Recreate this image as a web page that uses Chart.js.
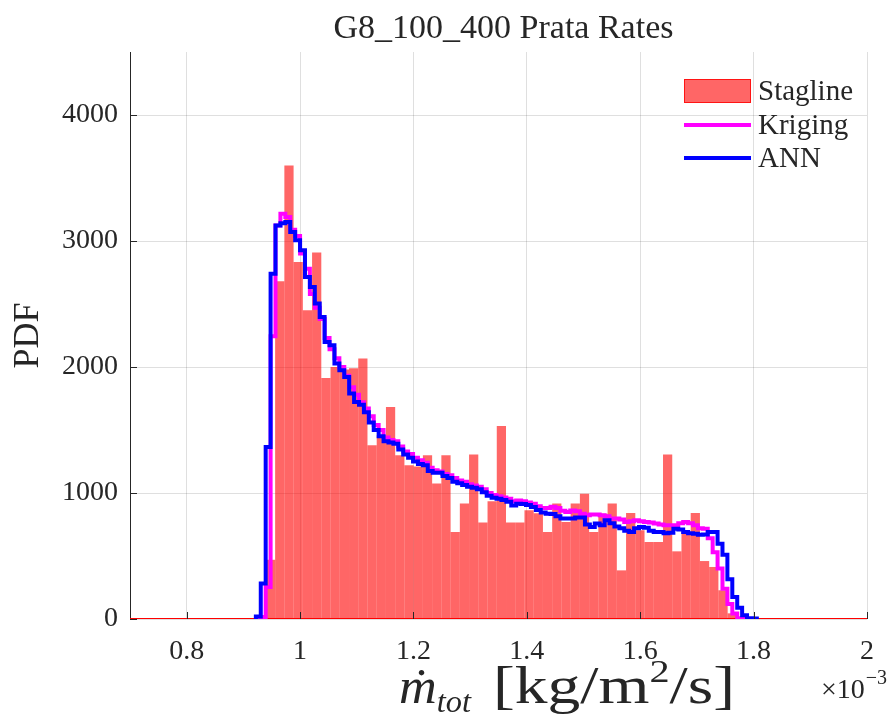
<!DOCTYPE html>
<html>
<head>
<meta charset="utf-8">
<script src="https://cdn.jsdelivr.net/npm/chart.js@4.4.1/dist/chart.umd.min.js"></script>
<style>
  html, body { margin: 0; padding: 0; background: #fff; }
  #wrap { width: 890px; height: 718px; }
</style>
</head>
<body>
<div id="wrap"><canvas id="c" width="890" height="718"></canvas></div>
<script>
// ---------------- data ----------------
const xTicks = [0.8, 1.0, 1.2, 1.4, 1.6, 1.8, 2.0];
const xTickLabels = ['0.8', '1', '1.2', '1.4', '1.6', '1.8', '2'];
const yTicks = [0, 1000, 2000, 3000, 4000];

// Stagline histogram (bin edges in units of 1e-3)
const staglineStart = 0.9397;
const staglineWidth = 0.01629;
const staglineCounts = [
  470, 2680, 3600, 2833, 2450, 2908, 1913, 2000, 1980, 1990,
  2067, 1379, 1458, 1683, 1299, 1220, 1210, 1300, 1075, 1299,
  690, 916, 1305, 765, 935, 1532, 765, 765, 863, 840,
  690, 916, 770, 916, 995, 690, 836, 916, 386, 841,
  704, 611, 611, 1305, 537, 690, 841, 460, 413, 228,
  45
];

// Kriging / ANN stairs (same bin edges)
const lineStart = 0.9220;
const lineWidth = 0.008664;
const krigingValues = [
  0, 15, 254, 2245, 3124, 3217, 3190, 3090, 3040, 2900,
  2780, 2580, 2470, 2380, 2230, 2140, 2070, 2000, 1930, 1840,
  1780, 1720, 1670, 1610, 1540, 1500, 1440, 1420, 1410, 1370,
  1330, 1310, 1280, 1260, 1240, 1200, 1180, 1170, 1150, 1140,
  1120, 1100, 1090, 1070, 1060, 1050, 1030, 1000, 985, 975,
  965, 955, 935, 940, 935, 925, 915, 895, 880, 880,
  890, 880, 860, 850, 862, 855, 835, 823, 830, 830,
  823, 815, 797, 797, 790, 770, 775, 783, 775, 770,
  765, 757, 750, 744, 744, 744, 760, 770, 760, 745,
  720, 717, 640, 530, 400, 240, 120, 43, 5, 2,
  0, 0
];
const annValues = [
  20, 281, 1365, 2741, 3124, 3140, 3150, 3071, 3005, 2926,
  2714, 2635, 2503, 2397, 2198, 2172, 2027, 1974, 1921, 1789,
  1722, 1700, 1640, 1560, 1500, 1450, 1410, 1400, 1390, 1345,
  1305, 1280, 1250, 1230, 1220, 1175, 1160, 1160, 1135, 1120,
  1090, 1078, 1063, 1050, 1042, 1030, 1005, 978, 962, 955,
  945, 930, 900, 915, 912, 905, 888, 865, 845, 836,
  833, 815, 798, 797, 797, 805, 805, 750, 730, 757,
  744, 783, 760, 735, 720, 700, 690, 720, 730, 725,
  700, 690, 690, 680, 685, 717, 710, 690, 680, 677,
  668, 670, 690, 690, 598, 510, 315, 175, 90, 29,
  5, 3
];

// ---------------- helpers ----------------
function barPoints(start, w, counts) {
  return counts.map((v, i) => ({ x: start + (i + 0.5) * w, y: v }));
}
function stairPoints(start, w, vals) {
  const pts = [{ x: start, y: 0 }];
  vals.forEach((v, i) => pts.push({ x: start + i * w, y: v }));
  pts.push({ x: start + vals.length * w, y: 0 });
  return pts;
}

const FONT = "'Liberation Serif', 'Times New Roman', serif";
const TXT = '#262626';

// draw a run of text pieces, optionally squeezed/stretched to a width
function drawRun(ctx, parts, x0, base, targetW) {
  let total = 0;
  parts.forEach(p => { ctx.font = p.f; p.w = ctx.measureText(p.t).width; total += p.w; });
  const sx = targetW ? targetW / total : 1;
  ctx.save();
  ctx.translate(x0, base);
  ctx.scale(sx, 1);
  ctx.textAlign = 'left';
  let px = 0;
  parts.forEach(p => { ctx.font = p.f; ctx.fillText(p.t, px, p.dy); px += p.w; });
  ctx.restore();
}

// ---------------- decorations (ticks, legend, labels) ----------------
const decor = {
  id: 'decor',
  afterDatasetsDraw(chart) {
    const { ctx, chartArea: a, scales: { x, y } } = chart;
    ctx.save();
    // inward tick marks
    ctx.strokeStyle = TXT;
    ctx.lineWidth = 1;
    xTicks.forEach(v => {
      const px = Math.round(x.getPixelForValue(v)) + 0.5;
      ctx.beginPath(); ctx.moveTo(px, a.bottom); ctx.lineTo(px, a.bottom - 7); ctx.stroke();
    });
    yTicks.forEach(v => {
      const py = Math.round(y.getPixelForValue(v)) + 0.5;
      ctx.beginPath(); ctx.moveTo(a.left, py); ctx.lineTo(a.left + 7, py); ctx.stroke();
    });

    // legend
    const ds = chart.data.datasets;
    const items = [ds[3], ds[1], ds[0]];
    const lx = 684, lw = 67, tx = 758;
    const rows = [91, 125, 158];
    ctx.font = '29px ' + FONT;
    ctx.textBaseline = 'middle';
    ctx.textAlign = 'left';
    items.forEach((d, i) => {
      const cy = rows[i];
      if (d.type === 'bar') {
        ctx.fillStyle = d.backgroundColor;
        ctx.fillRect(lx, cy - 12, lw, 24);
        ctx.strokeStyle = 'rgba(255,0,0,0.8)';
        ctx.lineWidth = 1;
        ctx.strokeRect(lx + 0.5, cy - 11.5, lw - 1, 23);
      } else {
        ctx.strokeStyle = d.borderColor;
        ctx.lineWidth = d.borderWidth;
        ctx.beginPath(); ctx.moveTo(lx, cy); ctx.lineTo(lx + lw, cy); ctx.stroke();
      }
      ctx.fillStyle = TXT;
      ctx.fillText(d.label, tx, cy + 1);
    });
    ctx.restore();
  },
  afterDraw(chart) {
    const { ctx, chartArea: a } = chart;
    const cx = (a.left + a.right) / 2;
    ctx.save();
    ctx.fillStyle = TXT;
    ctx.textBaseline = 'alphabetic';

    // title
    ctx.font = '34px ' + FONT;
    ctx.textAlign = 'center';
    ctx.fillText('G8_100_400 Prata Rates', cx + 5, 38);

    // y label
    ctx.save();
    ctx.translate(38, (a.top + a.bottom) / 2);
    ctx.rotate(-Math.PI / 2);
    ctx.font = '36px ' + FONT;
    ctx.textAlign = 'center';
    ctx.fillText('PDF', 0, 0);
    ctx.restore();

    // x label: m-dot with subscript "tot", then units
    drawRun(ctx, [
      { t: '\u1E41', f: 'italic 50px ' + FONT, dy: 0 },
      { t: 'tot', f: 'italic 31px ' + FONT, dy: 9 }
    ], 399, 703, 72);
    drawRun(ctx, [
      { t: '[kg/m', f: '52px ' + FONT, dy: 0 },
      { t: '2', f: '32px ' + FONT, dy: -21 },
      { t: '/s]', f: '52px ' + FONT, dy: 0 }
    ], 493, 703, 242);

    // exponent marker
    ctx.font = '28px ' + FONT;
    ctx.textAlign = 'left';
    const w1 = ctx.measureText('\u00D710').width;
    ctx.fillText('\u00D710', 821, 698);
    ctx.font = '20px ' + FONT;
    ctx.fillText('\u22123', 821 + w1 + 1, 684);
    ctx.restore();
  }
};

// ---------------- chart ----------------
const ctx = document.getElementById('c').getContext('2d');
const chart = new Chart(ctx, {
  type: 'bar',
  data: {
    datasets: [
      {
        type: 'line', label: 'ANN', order: 0,
        data: stairPoints(lineStart, lineWidth, annValues),
        borderColor: '#0000ff', borderWidth: 4, stepped: 'before',
        pointRadius: 0, fill: false, borderJoinStyle: 'miter'
      },
      {
        type: 'line', label: 'Kriging', order: 1,
        data: stairPoints(lineStart, lineWidth, krigingValues),
        borderColor: '#ff00ff', borderWidth: 4, stepped: 'before',
        pointRadius: 0, fill: false, borderJoinStyle: 'miter'
      },
      {
        type: 'line', label: 'base', order: 2,
        data: [{ x: 0.7, y: 0 }, { x: 2.0, y: 0 }],
        borderColor: '#ff0000', borderWidth: 2, pointRadius: 0, fill: false
      },
      {
        type: 'bar', label: 'Stagline', order: 3,
        data: barPoints(staglineStart, staglineWidth, staglineCounts),
        backgroundColor: 'rgba(255,0,0,0.6)', borderWidth: 0,
        barPercentage: 1, categoryPercentage: 1, inflateAmount: 0
      }
    ]
  },
  options: {
    responsive: false,
    animation: false,
    devicePixelRatio: 1,
    layout: { padding: { top: 52, right: 9, bottom: 0, left: 0 } },
    plugins: { legend: { display: false }, title: { display: false }, tooltip: { enabled: false } },
    scales: {
      x: {
        type: 'linear', min: 0.7, max: 2.0, offset: false,
        afterFit(s) { s.height = 99; },
        afterBuildTicks(s) { s.ticks = xTicks.map(v => ({ value: v })); },
        grid: { color: 'rgba(38,38,38,0.15)', drawTicks: false, offset: false },
        border: { display: false },
        ticks: {
          padding: 16, color: TXT, font: { family: FONT, size: 28 },
          maxRotation: 0, minRotation: 0, autoSkip: false,
          callback: v => {
            const k = xTicks.findIndex(t => Math.abs(t - v) < 1e-9);
            return k < 0 ? '' : xTickLabels[k];
          }
        }
      },
      y: {
        type: 'linear', min: 0, max: 4500,
        afterFit(s) { s.width = 130; },
        afterBuildTicks(s) { s.ticks = yTicks.map(v => ({ value: v })); },
        grid: { color: 'rgba(38,38,38,0.15)', drawTicks: false },
        border: { display: true, color: TXT, width: 1 },
        ticks: {
          padding: 12, color: TXT, font: { family: FONT, size: 28 },
          callback: v => String(v)
        }
      }
    }
  },
  plugins: [decor]
});
</script>
</body>
</html>
